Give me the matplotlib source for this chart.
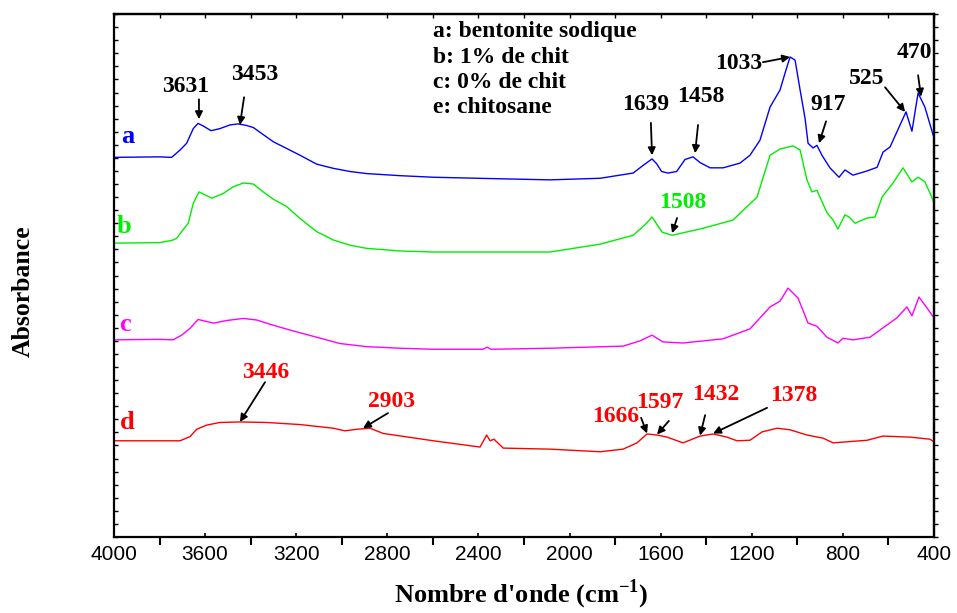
import matplotlib
matplotlib.use("Agg")
import matplotlib.pyplot as plt
from matplotlib.ticker import MultipleLocator, NullFormatter

plt.rcParams["font.family"] = ["Liberation Serif", "DejaVu Serif"]
plt.rcParams["mathtext.fontset"] = "custom"
plt.rcParams["mathtext.rm"] = "Liberation Serif:bold"
plt.rcParams["mathtext.bf"] = "Liberation Serif:bold"

# --- spectra (wavenumber in cm-1, offset absorbance in arbitrary units) ---
wn_a = [4000, 3800, 3747, 3710, 3681, 3652, 3631, 3608, 3574, 3535, 3491, 3455, 3418,
        3388, 3330, 3301, 3242, 3183, 3110, 3037, 2964, 2891, 2744, 2598, 2300, 2086,
        1866, 1721, 1676, 1638, 1618, 1596, 1568, 1530, 1493, 1458, 1427, 1383, 1326,
        1252, 1208, 1164, 1120, 1076, 1050, 1032, 1010, 988, 966, 953, 931, 914, 892,
        857, 817, 791, 756, 694, 650, 624, 593, 523, 497, 470, 440, 400]
abs_a = [72.6, 72.7, 72.6, 74.0, 75.3, 78.1, 79.1, 78.6, 77.7, 78.1, 78.8, 79.0, 78.7,
         78.3, 76.5, 75.6, 74.3, 73.0, 71.3, 70.5, 69.9, 69.5, 69.1, 68.8, 68.5, 68.3,
         68.6, 69.6, 71.1, 72.3, 71.4, 69.9, 69.6, 69.9, 72.2, 72.7, 71.6, 70.6, 70.6,
         71.5, 73.0, 75.9, 82.2, 85.5, 89.3, 91.8, 91.2, 85.5, 80.0, 75.3, 74.4, 74.9,
         73.0, 70.6, 68.8, 70.2, 69.2, 70.0, 70.7, 73.6, 74.6, 81.3, 77.6, 84.9, 82.2,
         76.3]

wn_b = [4000, 3800, 3747, 3725, 3703, 3674, 3652, 3627, 3608, 3571, 3520, 3476, 3432,
        3388, 3345, 3301, 3242, 3183, 3110, 3037, 2964, 2891, 2744, 2598, 2300, 2086,
        1866, 1721, 1669, 1638, 1594, 1550, 1427, 1283, 1177, 1120, 1076, 1019, 988,
        958, 936, 914, 870, 843, 822, 791, 773, 747, 694, 659, 628, 580, 536, 497, 470,
        440, 418, 400]
abs_b = [56.2, 56.3, 56.7, 57.1, 58.4, 60.0, 63.8, 66.0, 65.6, 64.8, 65.7, 67.0, 67.7,
         67.5, 66.0, 64.6, 63.2, 60.9, 58.4, 56.8, 55.8, 55.2, 54.7, 54.5, 54.5, 54.5,
         56.0, 57.7, 59.7, 61.2, 58.3, 57.7, 58.9, 60.6, 65.0, 73.0, 74.2, 74.8, 74.0,
         68.3, 66.0, 66.3, 62.0, 60.6, 58.9, 61.6, 61.2, 60.0, 61.0, 61.2, 65.0, 67.7,
         70.6, 67.9, 68.8, 67.9, 65.8, 63.9]

wn_c = [4000, 3800, 3741, 3703, 3666, 3631, 3563, 3505, 3432, 3374, 3301, 3213, 3110,
        3008, 2891, 2744, 2598, 2380, 2362, 2345, 2086, 1765, 1691, 1638, 1590, 1502,
        1326, 1208, 1120, 1076, 1041, 997, 953, 914, 870, 822, 800, 756, 681, 624, 563,
        519, 497, 466, 431, 400]
abs_c = [37.7, 37.8, 37.7, 38.6, 39.9, 41.6, 40.9, 41.4, 41.8, 41.5, 40.5, 39.4, 38.2,
         37.0, 36.4, 36.1, 35.9, 35.9, 36.3, 35.9, 36.1, 36.5, 37.5, 38.6, 37.3, 37.1,
         37.9, 39.8, 44.0, 45.1, 47.6, 45.7, 40.9, 40.3, 38.2, 37.1, 38.0, 37.7, 38.2,
         40.0, 41.9, 44.0, 42.3, 45.9, 43.8, 41.9]

wn_d = [4000, 3710, 3666, 3637, 3593, 3535, 3447, 3330, 3183, 3037, 2986, 2934, 2876,
        2818, 2598, 2393, 2364, 2349, 2332, 2291, 2086, 1866, 1765, 1704, 1660, 1616,
        1572, 1502, 1427, 1370, 1309, 1265, 1208, 1155, 1089, 1032, 958, 887, 843, 694,
        624, 505, 418, 400]
abs_d = [18.4, 18.4, 19.2, 20.6, 21.4, 21.9, 22.0, 21.9, 21.5, 20.8, 20.3, 20.6, 20.8,
         19.8, 18.4, 17.2, 19.5, 18.4, 18.7, 17.0, 16.8, 16.3, 16.8, 18.0, 19.7, 19.5,
         19.1, 18.0, 19.3, 19.7, 19.1, 18.4, 18.5, 20.1, 20.8, 20.5, 19.5, 18.9, 18.0,
         18.5, 19.3, 19.1, 18.7, 18.2]

series = [
    ("a", "#0000ff", wn_a, abs_a, (3939, 76.5)),
    ("b", "#00ee00", wn_b, abs_b, (3956, 59.3)),
    ("c", "#ff00ff", wn_c, abs_c, (3952, 40.7)),
    ("d", "#ff0000", wn_d, abs_d, (3943, 21.8)),
]

legend_lines = ["a: bentonite sodique", "b: 1% de chit", "c: 0% de chit", "e: chitosane"]

# peak labels: text, colour, text position, arrow tail, arrow head
peaks = [
    ("3631", "black", (3684, 86.2), (3627, 83.7), (3627, 79.9)),
    ("3453", "black", (3381, 88.5), (3429, 84.1), (3447, 78.8)),
    ("1639", "black", (1664, 82.8), (1643, 79.2), (1638, 73.0)),
    ("1458", "black", (1423, 84.3), (1436, 78.8), (1449, 73.4)),
    ("1033", "black", (1256, 90.6), (1151, 90.8), (1032, 91.8)),
    ("917", "black", (866, 82.8), (874, 79.5), (905, 75.3)),
    ("525", "black", (694, 87.6), (615, 86.0), (527, 81.3)),
    ("470", "black", (488, 92.7), (470, 88.3), (457, 84.2)),
    ("1508", "#00ee00", (1502, 63.9), (1528, 61.0), (1550, 58.1)),
    ("3446", "red", (3333, 31.4), (3337, 29.6), (3447, 22.0)),
    ("2903", "red", (2780, 26.0), (2797, 23.7), (2907, 20.8)),
    ("1666", "red", (1796, 23.1), (1686, 22.8), (1660, 19.8)),
    ("1597", "red", (1603, 25.8), (1564, 22.2), (1616, 19.6)),
    ("1432", "red", (1357, 27.2), (1405, 23.3), (1427, 19.4)),
    ("1378", "red", (1015, 27.0), (1133, 24.7), (1370, 19.8)),
]

fig = plt.figure(figsize=(9.57, 6.13), dpi=100)
ax = fig.add_axes([0.1191, 0.124, 0.8569, 0.853])

for name, color, wn, ab, lpos in series:
    ax.plot(wn, ab, color=color, lw=1.0)
    ax.text(lpos[0], lpos[1], name, color=color, fontsize=19, fontweight="bold",
            ha="center", va="center")

for label, color, tpos, tail, head in peaks:
    ax.text(tpos[0], tpos[1], label, color=color, fontsize=17, fontweight="bold",
            ha="center", va="center")
    ax.annotate("", xy=head, xytext=tail,
                arrowprops=dict(arrowstyle="-|>", color="black", lw=1.3,
                                mutation_scale=11, shrinkA=0, shrinkB=0))

for i, line in enumerate(legend_lines):
    ax.text(2600, 96.6 - 4.85 * i, line, fontsize=17, fontweight="bold",
            ha="left", va="center")

ax.set_xlim(4000, 400)
ax.set_ylim(0, 100)

ax.xaxis.set_major_locator(MultipleLocator(400))
ax.xaxis.set_minor_locator(MultipleLocator(200))
ax.yaxis.set_major_locator(MultipleLocator(2.5))
ax.yaxis.set_major_formatter(NullFormatter())
ax.tick_params(axis="x", which="major", direction="in", length=3, width=1.2,
               top=False, labelsize=15, pad=6)
ax.tick_params(axis="x", which="minor", direction="out", length=6, width=1.5, top=False)
ax.tick_params(axis="y", which="major", direction="in", length=3, width=1.0, right=False)
for lab in ax.get_xticklabels():
    lab.set_family(["Liberation Sans", "DejaVu Sans"])

top = ax.secondary_xaxis("top")
top.xaxis.set_major_locator(MultipleLocator(200))
top.xaxis.set_major_formatter(NullFormatter())
top.tick_params(direction="in", length=3, width=1.0)

right = ax.secondary_yaxis("right")
right.yaxis.set_major_locator(MultipleLocator(2.5))
right.yaxis.set_major_formatter(NullFormatter())
right.tick_params(direction="out", length=3, width=1.0)

for sp in ax.spines.values():
    sp.set_linewidth(1.6)
top.spines["top"].set_linewidth(1.6)
right.spines["right"].set_linewidth(1.6)

fig.text(0.545, 0.03, r"Nombre d'onde (cm$^{\mathbf{-1}}$)", fontsize=19,
         fontweight="bold", ha="center", va="center")
fig.text(0.024, 0.525, "Absorbance", rotation=90, fontsize=18.5, fontweight="bold",
         ha="center", va="center")

fig.savefig("out.png", dpi=100)
